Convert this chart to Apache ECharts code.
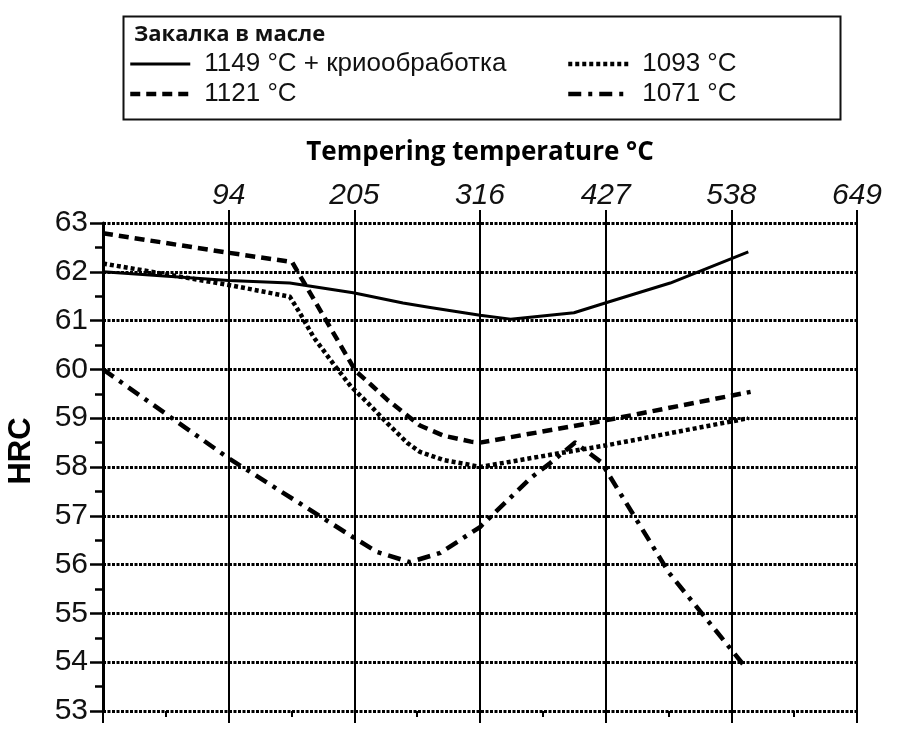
<!DOCTYPE html>
<html><head><meta charset="utf-8">
<script src="https://cdn.jsdelivr.net/npm/echarts@6/dist/echarts.min.js"></script>
<style>html,body{margin:0;padding:0;background:#fff}#c{width:900px;height:756px}</style>
</head><body><div id="c"></div>
<script>
// ---- data ----
const legendTitle = 'Закалка в масле';
const xAxisName = 'Tempering temperature °C';
const yAxisName = 'HRC';
const seriesNames = ['1149 °C + криообработка', '1121 °C', '1093 °C', '1071 °C'];

const t1149 = [-17, 94, 148, 204, 248, 272, 316, 343, 399, 428, 484, 553];
const h1149 = [62.0, 61.82, 61.77, 61.57, 61.36, 61.27, 61.11, 61.03, 61.16, 61.37, 61.77, 62.41];

const t1121 = [-17, 94, 150, 206, 220, 234, 252, 263, 284, 308, 316, 428, 555];
const h1121 = [62.79, 62.39, 62.2, 59.97, 59.68, 59.38, 59.05, 58.85, 58.64, 58.52, 58.5, 58.96, 59.54];

const t1093 = [-17, 94, 148, 157, 169, 186, 202, 217, 234, 252, 263, 284, 308, 316, 378, 429, 553];
const h1093 = [62.17, 61.73, 61.49, 61.15, 60.66, 60.13, 59.65, 59.31, 58.9, 58.49, 58.31, 58.14, 58.04, 58.0, 58.25, 58.45, 59.0];

const t1071 = [-17, 94, 204, 225, 254, 281, 316, 361, 378, 400, 423, 483, 549];
const h1071 = [60.0, 58.18, 56.56, 56.26, 56.05, 56.24, 56.77, 57.78, 58.08, 58.5, 58.1, 55.83, 53.94];

const xMin = -17, xMax = 649, xStep = 111;   // tick labels 94, 205, 316, 427, 538, 649
const yMin = 53, yMax = 63, yStep = 1;

// ---- chart ----
const pairs = (t, h) => t.map((v, i) => [v, h[i]]);
const lineTypes = [
  { width: 3, type: 'solid' },
  { width: 4.5, type: [10, 6] },
  { width: 4.5, type: [4, 3] },
  { width: 4.5, type: [13, 7, 4, 7] }
];
const dataSets = [pairs(t1149, h1149), pairs(t1121, h1121), pairs(t1093, h1093), pairs(t1071, h1071)];

const FONT = 'Liberation Sans';
const chart = echarts.init(document.getElementById('c'), null, { renderer: 'canvas' });
const legendCommon = {
  orient: 'vertical', padding: 0, itemWidth: 60, itemHeight: 14, itemGap: 4,
  lineStyle: { width: 'inherit', type: 'inherit', cap: 'butt' },
  itemStyle: { opacity: 0 },
  textStyle: { fontFamily: FONT, fontSize: 26, color: '#111', padding: [0, 0, 0, 9] }
};
chart.setOption({
  animation: false,
  backgroundColor: '#fff',
  title: {
    text: legendTitle, left: 134, top: 24, padding: 0,
    textStyle: { fontFamily: 'Open Sans', fontWeight: 'bold', fontSize: 22, color: '#111' }
  },
  graphic: [{
    type: 'rect', left: 121, top: 14, z: 0,
    shape: { width: 717, height: 103 },
    style: { fill: 'none', stroke: '#111', lineWidth: 2 }
  }],
  legend: [
    Object.assign({}, legendCommon, { left: 128, top: 51, data: [seriesNames[0], seriesNames[1]] }),
    Object.assign({}, legendCommon, { left: 566, top: 51, data: [seriesNames[2], seriesNames[3]] })
  ],
  grid: { left: 103, top: 223, right: 43, bottom: 45, containLabel: false, outerBoundsMode: 'none' },
  xAxis: [{
    type: 'value', position: 'top', min: xMin, max: xMax, interval: xStep,
    axisLine: { show: false, onZero: false },
    axisTick: { show: true, length: 13, lineStyle: { color: '#000', width: 2 } },
    axisLabel: {
      showMinLabel: false, margin: 12, fontFamily: FONT, fontStyle: 'italic',
      fontSize: 30, color: '#111'
    },
    splitLine: { show: true, lineStyle: { color: '#000', width: 2 } },
    name: xAxisName, nameLocation: 'middle', nameGap: 57,
    nameTextStyle: { fontFamily: 'Open Sans', fontWeight: 'bold', fontSize: 26, color: '#000' }
  }, {
    type: 'value', position: 'bottom', min: xMin, max: xMax, interval: xStep,
    axisLine: { show: false, onZero: false },
    axisTick: { show: true, length: 12, lineStyle: { color: '#000', width: 2 } },
    minorTick: { show: true, splitNumber: 2, length: 6, lineStyle: { color: '#000', width: 2 } },
    axisLabel: { show: false },
    splitLine: { show: false }
  }],
  yAxis: {
    type: 'value', min: yMin, max: yMax, interval: yStep,
    axisLine: { show: true, onZero: false, lineStyle: { color: '#000', width: 3 } },
    axisTick: { show: true, length: 13, lineStyle: { color: '#000', width: 2.5 } },
    minorTick: { show: true, splitNumber: 2, length: 8, lineStyle: { color: '#000', width: 2.5 } },
    axisLabel: { margin: 15, fontFamily: FONT, fontSize: 30, color: '#111' },
    splitLine: { show: true, lineStyle: { color: '#000', width: 3, type: [3, 1.5] } },
    name: yAxisName, nameLocation: 'middle', nameGap: 66, nameRotate: 90,
    nameTextStyle: { fontFamily: FONT, fontWeight: 'bold', fontSize: 31, color: '#000', padding: [0, 0, 0, 32] }
  },
  series: seriesNames.map((n, i) => ({
    name: n, type: 'line', xAxisIndex: 0, symbol: 'none', smooth: false,
    data: dataSets[i],
    lineStyle: { color: '#000', width: lineTypes[i].width, type: lineTypes[i].type, cap: 'butt', join: 'round' },
    itemStyle: { color: '#000' },
    z: 3
  }))
});
</script></body></html>
